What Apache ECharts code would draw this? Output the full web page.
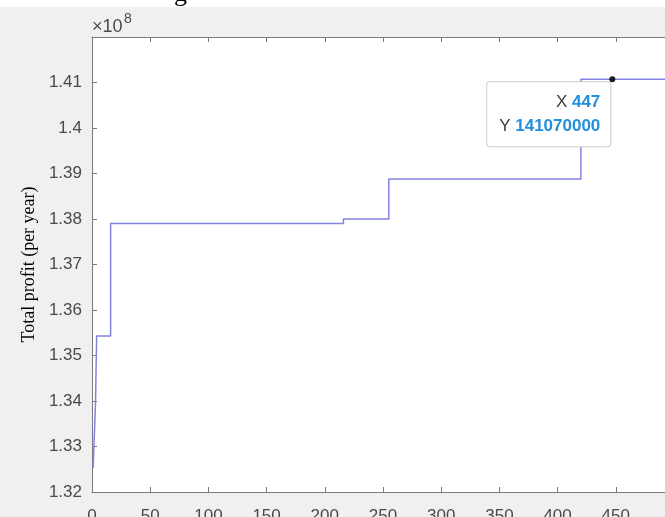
<!DOCTYPE html>
<html><head><meta charset="utf-8">
<script src="https://cdn.jsdelivr.net/npm/echarts@6/dist/echarts.min.js"></script>
<style>html,body{margin:0;padding:0;background:#f0f0f0}#c{width:665px;height:517px}</style>
</head><body><div id="c"></div>
<script>
// ---- data ----
const iterations = [1, 3, 4, 16, 16, 216, 216, 255, 255, 420, 420, 500];
const profits = [132530000, 133950000, 135430000, 135430000, 137900000, 137900000, 138000000, 138000000, 138880000, 138880000, 141070000, 141070000];
const tipX = 447;
const tipY = 141070000;
const yAxisName = 'Total profit (per year)';
const exponentLabel = '×10';
const exponentPower = '8';
const titleFragment = 'g';

const xMin = 0, xMax = 500, xStep = 50;
const yMin = 132000000, yMax = 142000000, yStep = 1000000;

const pts = iterations.map((x, i) => [x, profits[i]]);
const sans = "'Liberation Sans', Arial, Helvetica, sans-serif";
const serif = "'Liberation Serif', 'Times New Roman', serif";
const axisCol = '#7a7a7a';
const labelCol = '#4a4a4a';

const chart = echarts.init(document.getElementById('c'), null, {renderer: 'canvas'});
chart.setOption({
  animation: false,
  backgroundColor: '#f0f0f0',
  grid: {left: 92, right: -9, top: 37, bottom: 25, outerBoundsMode: 'none', containLabel: false,
    show: true, backgroundColor: '#ffffff', borderWidth: 0},
  xAxis: [{
    type: 'value', min: xMin, max: xMax, interval: xStep, position: 'bottom',
    axisLine: {show: true, lineStyle: {color: axisCol, width: 1}},
    axisTick: {show: true, inside: true, length: 5, lineStyle: {color: axisCol}},
    axisLabel: {margin: 16, color: labelCol, fontSize: 17, fontFamily: sans,
      formatter: v => (v >= xMax ? '' : String(v))},
    splitLine: {show: false}
  }, {
    type: 'value', min: xMin, max: xMax, interval: xStep, position: 'top',
    axisLine: {show: true, lineStyle: {color: axisCol, width: 1}},
    axisTick: {show: true, inside: true, length: 5, lineStyle: {color: axisCol}},
    axisLabel: {show: false},
    splitLine: {show: false}
  }],
  yAxis: [{
    type: 'value', min: yMin, max: yMax, interval: yStep,
    axisLine: {show: true, lineStyle: {color: axisCol, width: 1}},
    axisTick: {show: true, inside: true, length: 5, lineStyle: {color: axisCol}},
    axisLabel: {margin: 10, color: labelCol, fontSize: 17, fontFamily: sans,
      formatter: v => v >= yMax ? '' : String(parseFloat((v / 1e8).toFixed(2)))},
    splitLine: {show: false},
    name: yAxisName, nameLocation: 'middle', nameGap: 54,
    nameTextStyle: {fontFamily: serif, fontSize: 18, color: '#000'}
  }],
  series: [{
    type: 'line', data: pts, showSymbol: false, symbol: 'none',
    lineStyle: {color: '#8282e4', width: 1.5},
    markPoint: {
      symbol: 'circle', symbolSize: 6,
      itemStyle: {color: '#1a1a1a'},
      data: [{coord: [tipX, tipY], value: tipY}],
      label: {
        show: true, position: [1, 6], align: 'right', verticalAlign: 'top',
        backgroundColor: '#ffffff', borderColor: '#cccccc', borderWidth: 1, borderRadius: 3,
        padding: [8, 10, 8, 12], fontSize: 17, fontFamily: sans, color: '#404040',
        formatter: () => '{k|X} {v|' + tipX + '}\n{k|Y} {v|' + tipY + '}',
        rich: {
          k: {color: '#404040', fontSize: 17, fontFamily: sans, lineHeight: 24},
          v: {color: '#2290dc', fontSize: 17, fontWeight: 'bold', fontFamily: sans, lineHeight: 24}
        }
      }
    }
  }],
  graphic: [
    {type: 'rect', z: 10, shape: {x: 0, y: 0, width: 665, height: 7}, style: {fill: '#ffffff'}},
    {type: 'text', z: 11, x: 174, y: 7, style: {text: titleFragment, font: "26px 'Liberation Serif'", fill: '#000', textVerticalAlign: 'bottom'}},
    {type: 'text', z: 11, x: 92, y: 27, style: {text: exponentLabel, font: "18px 'Liberation Sans'", fill: labelCol, textVerticalAlign: 'middle'}},
    {type: 'text', z: 11, x: 124, y: 19, style: {text: exponentPower, font: "14px 'Liberation Sans'", fill: labelCol, textVerticalAlign: 'middle'}}
  ]
});
</script></body></html>
